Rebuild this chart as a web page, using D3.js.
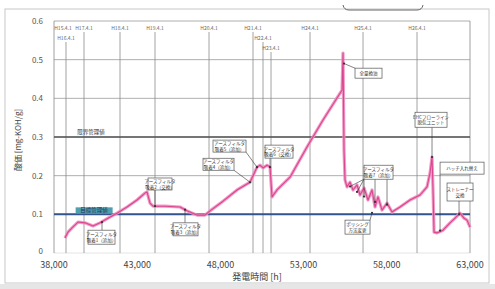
<!DOCTYPE html>
<html>
<head>
<meta charset="utf-8">
<script src="https://cdn.jsdelivr.net/npm/d3@7"></script>
<style>
  body { margin: 0; background: #fff; }
  svg { display: block; font-family: "Noto Sans CJK JP", "Liberation Sans", sans-serif; }
</style>
</head>
<body>
<svg id="chart" width="495" height="289"></svg>
<script>
// generation hours vs acid value (mg-KOH/g)
var HOURS = [38661, 38841, 39082, 39442, 39863, 40344, 40765, 41245, 41786, 42387, 42988, 43469, 43589,
  43770, 43950, 44671, 45573, 45993, 46594, 47075, 47376, 48157, 48998, 49780, 50200, 50381, 50561,
  50801, 50982, 51102, 51402, 52184, 53205, 54167, 55008, 55309, 55369, 55429, 55489, 55609, 55790,
  55970, 56210, 56391, 56631, 56871, 57112, 57292, 57472, 57713, 58013, 58314, 58795, 59396, 59997,
  60418, 60598, 60718, 60778, 60839, 61019, 61380, 61800, 62101, 62401, 62641, 62822, 63002];
var ACID = [0.039, 0.054, 0.065, 0.080, 0.078, 0.070, 0.078, 0.090, 0.103, 0.119, 0.137, 0.155, 0.158,
  0.129, 0.121, 0.121, 0.119, 0.109, 0.098, 0.098, 0.109, 0.134, 0.163, 0.183, 0.222, 0.227, 0.220,
  0.227, 0.222, 0.145, 0.163, 0.196, 0.274, 0.344, 0.401, 0.421, 0.517, 0.266, 0.189, 0.171, 0.183,
  0.163, 0.176, 0.150, 0.168, 0.137, 0.163, 0.119, 0.145, 0.111, 0.129, 0.106, 0.119, 0.137, 0.150,
  0.171, 0.207, 0.248, 0.163, 0.054, 0.052, 0.059, 0.078, 0.090, 0.103, 0.090, 0.085, 0.067];

var X_TICKS = [38000, 43000, 48000, 53000, 58000, 63000];
var Y_TICKS = [0, 0.1, 0.2, 0.3, 0.4, 0.5, 0.6];

var DATE_LABELS = ["H15.4.1", "H16.4.1", "H17.4.1", "H18.4.1", "H19.4.1", "H20.4.1", "H21.4.1",
  "H22.4.1", "H23.4.1", "H24.4.1", "H25.4.1", "H26.4.1"];
var DATE_HOURS = [38000, 38721, 39803, 41967, 44070, 47316, 49960, 50561, 51042, 53386, 56571, 59816];

var LIMIT_VALUES = [0.3, 0.1];
var LIMIT_LABELS = ["限界管理値", "目標管理値"];

// annotation boxes: top-left corner in data units, leader targets in data units
var NOTES = [
  { text: ["アースフィルタ", "吸着1（追加）"], h: 40043, v: 0.059, w: 27, ht: 14, to: [[40885, 0.080]] },
  { text: ["アースフィルタ", "吸着2（交換）"], h: 43650, v: 0.194, w: 24, ht: 12, to: [[44070, 0.121]] },
  { text: ["アースフィルタ", "吸着3（追加）"], h: 45152, v: 0.078, w: 25, ht: 13, to: [[45873, 0.112]] },
  { text: ["アースフィルタ", "吸着4（追加）"], h: 46955, v: 0.245, w: 31, ht: 12, to: [[49780, 0.183]] },
  { text: ["アースフィルタ", "吸着5（追加）"], h: 47556, v: 0.292, w: 33, ht: 12, to: [[50200, 0.222]] },
  { text: ["アースフィルタ", "吸着6（交換）"], h: 50681, v: 0.279, w: 28, ht: 13, to: [[50982, 0.222]] },
  { text: ["アースフィルタ", "吸着7（追加）"], h: 56631, v: 0.227, w: 29, ht: 14,
    to: [[55790, 0.172], [56210, 0.158], [56631, 0.146], [57292, 0.132], [58013, 0.125]] },
  { text: ["全量換油"], h: 56090, v: 0.478, w: 27, ht: 10, to: [[55429, 0.49]] },
  { text: ["EHCフローライン", "脱気ユニット"], h: 59696, v: 0.364, w: 32, ht: 15, to: [[60718, 0.248]] },
  { text: ["ハッチ入れ替え"], h: 61200, v: 0.235, w: 44, ht: 12, to: [[61200, 0.058]] },
  { text: ["ストレーナー", "交換"], h: 61620, v: 0.181, w: 26, ht: 18, to: [[62341, 0.100]] },
  { text: ["ポリシング", "方法変更"], h: 55489, v: 0.085, w: 25, ht: 14, to: [[57112, 0.104]] }
];

var svg = d3.select("#chart");
var x = d3.scaleLinear().domain([38000, 63000]).range([54, 470]);
var y = d3.scaleLinear().domain([0, 0.6]).range([253, 21]);

// scan frame
svg.append("rect").attr("x", 5).attr("y", 9).attr("width", 484).attr("height", 274)
  .attr("fill", "#fff").attr("stroke", "#c8c8c8").attr("stroke-width", 1);
svg.append("rect").attr("x", 0).attr("y", 284).attr("width", 495).attr("height", 5).attr("fill", "#e6e6e6");
svg.append("path").attr("d", "M343,5 Q344,10 349,10 L417,10 Q422,10 423,5")
  .attr("fill", "none").attr("stroke", "#666").attr("stroke-width", 1);

// horizontal grid
svg.append("g").selectAll("line").data(Y_TICKS).enter().append("line")
  .attr("x1", x(38000)).attr("x2", x(63000))
  .attr("y1", function(d) { return y(d); }).attr("y2", function(d) { return y(d); })
  .attr("stroke", function(d) { return d === 0 ? "#ddd" : "#9a9a9a"; })
  .attr("stroke-width", 0.8);

// plot sides
svg.append("line").attr("x1", x(38000)).attr("x2", x(38000)).attr("y1", y(0.6)).attr("y2", y(0))
  .attr("stroke", "#888").attr("stroke-width", 0.8);
svg.append("line").attr("x1", x(63000)).attr("x2", x(63000)).attr("y1", y(0.6)).attr("y2", y(0))
  .attr("stroke", "#888").attr("stroke-width", 0.8);

// fiscal year lines
var rowOf = { "H16.4.1": 1, "H22.4.1": 1, "H23.4.1": 2 };
var dates = DATE_LABELS.map(function(l, i) { return { label: l, hour: DATE_HOURS[i] }; });
var dg = svg.append("g");
dg.selectAll("line").data(dates.slice(1)).enter().append("line")
  .attr("x1", function(d) { return x(d.hour); }).attr("x2", function(d) { return x(d.hour); })
  .attr("y1", function(d) { return 32 + (rowOf[d.label] || 0) * 10; })
  .attr("y2", y(0))
  .attr("stroke", "#8a8a8a").attr("stroke-width", 0.8);
dg.selectAll("text").data(dates).enter().append("text")
  .attr("x", function(d) { return Math.max(x(d.hour), 63); })
  .attr("y", function(d) { return 30 + (rowOf[d.label] || 0) * 10; })
  .attr("text-anchor", "middle").attr("font-size", 5).attr("fill", "#666")
  .text(function(d) { return d.label; });

// management lines
svg.append("line").attr("x1", x(38000)).attr("x2", x(63000))
  .attr("y1", y(LIMIT_VALUES[0])).attr("y2", y(LIMIT_VALUES[0]))
  .attr("stroke", "#555").attr("stroke-width", 1.4);
svg.append("text").attr("x", x(39400)).attr("y", y(LIMIT_VALUES[0]) - 3)
  .attr("font-size", 5.5).attr("fill", "#333").text(LIMIT_LABELS[0]);

svg.append("line").attr("x1", x(38000)).attr("x2", x(63000))
  .attr("y1", y(LIMIT_VALUES[1])).attr("y2", y(LIMIT_VALUES[1]))
  .attr("stroke", "#34548e").attr("stroke-width", 2);
svg.append("rect").attr("x", x(39300)).attr("y", y(LIMIT_VALUES[1]) - 7)
  .attr("width", 37).attr("height", 6).attr("fill", "#4f9fb0");
svg.append("text").attr("x", x(39300) + 18.5).attr("y", y(LIMIT_VALUES[1]) - 2)
  .attr("text-anchor", "middle").attr("font-size", 5.5).attr("fill", "#1d2f55").text(LIMIT_LABELS[1]);

// data line
var pts = HOURS.map(function(h, i) { return [h, ACID[i]]; });
var line = d3.line().x(function(d) { return x(d[0]); }).y(function(d) { return y(d[1]); });
svg.append("path").datum(pts).attr("d", line).attr("fill", "none")
  .attr("stroke", "#ef8fc0").attr("stroke-width", 3.2).attr("stroke-linejoin", "round").attr("opacity", 0.9);
svg.append("path").datum(pts).attr("d", line).attr("fill", "none")
  .attr("stroke", "#d9468f").attr("stroke-width", 1.1).attr("stroke-linejoin", "round");

// annotations
var ng = svg.append("g");
NOTES.forEach(function(n) {
  var bx = x(n.h), by = y(n.v);
  n.to.forEach(function(t) {
    var tx = x(t[0]), ty = y(t[1]);
    var sx = Math.max(bx, Math.min(bx + n.w, tx));
    var sy = ty > by + n.ht ? by + n.ht : (ty < by ? by : by + n.ht / 2);
    if (tx > bx + n.w || tx < bx) { if (ty >= by && ty <= by + n.ht) sy = ty; }
    ng.append("line").attr("x1", sx).attr("y1", sy).attr("x2", tx).attr("y2", ty)
      .attr("stroke", "#333").attr("stroke-width", 0.6);
    ng.append("circle").attr("cx", tx).attr("cy", ty).attr("r", 1.1).attr("fill", "#333");
  });
  ng.append("rect").attr("x", bx).attr("y", by).attr("width", n.w).attr("height", n.ht)
    .attr("fill", "#fff").attr("stroke", "#555").attr("stroke-width", 0.7);
  n.text.forEach(function(t, i) {
    ng.append("text").attr("x", bx + n.w / 2)
      .attr("y", by + n.ht / 2 + (i - (n.text.length - 1) / 2) * 5.5 + 1.8)
      .attr("text-anchor", "middle").attr("font-size", 4.5).attr("fill", "#333").text(t);
  });
});

// axes labels
svg.append("g").selectAll("text").data(X_TICKS).enter().append("text")
  .attr("x", function(d) { return x(d); }).attr("y", 268)
  .attr("text-anchor", "middle").attr("font-size", 9).attr("fill", "#444")
  .text(function(d) { return d3.format(",")(d); });
svg.append("g").selectAll("text").data(Y_TICKS).enter().append("text")
  .attr("x", 43).attr("y", function(d) { return d === 0 ? y(d) + 1 : y(d) + 3; })
  .attr("text-anchor", "end").attr("font-size", 8).attr("fill", "#555")
  .text(function(d) { return d === 0 ? "0" : d3.format(".1f")(d); });

svg.append("text").attr("transform", "translate(21,140) rotate(-90)")
  .attr("text-anchor", "middle").attr("font-size", 8).attr("fill", "#444")
  .text("酸価 [mg-KOH/g]");
svg.append("text").attr("x", 257).attr("y", 280).attr("text-anchor", "middle")
  .attr("font-size", 9).attr("fill", "#444").text("発電時間 [h]");
</script>
</body>
</html>
